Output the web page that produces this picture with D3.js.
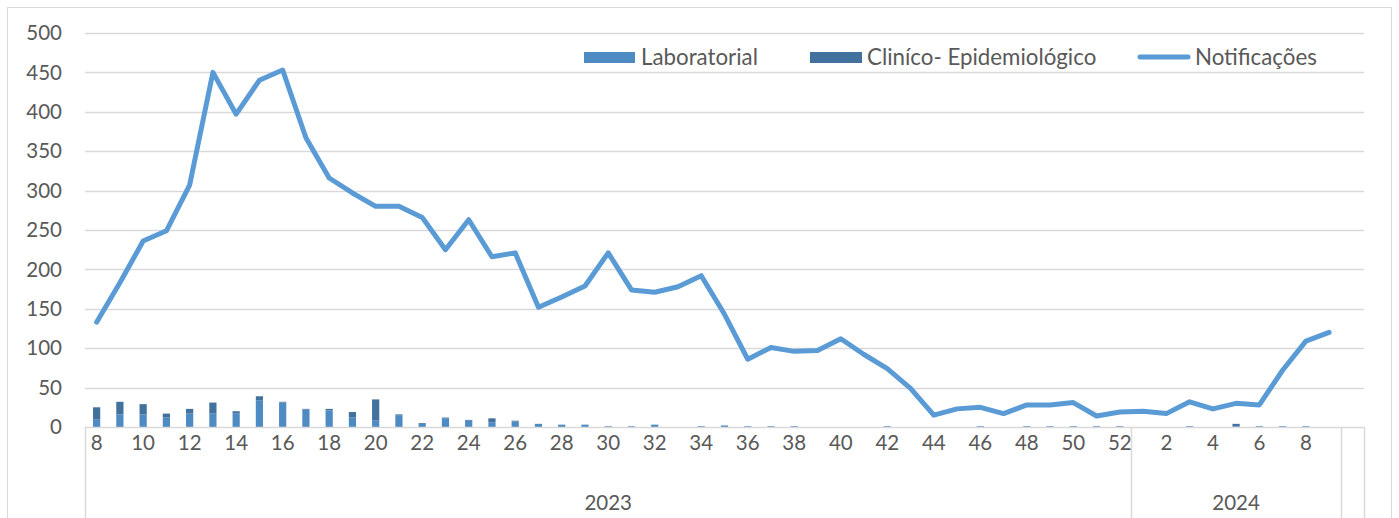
<!DOCTYPE html>
<html>
<head>
<meta charset="utf-8">
<script src="https://cdn.jsdelivr.net/npm/d3@7"></script>
<style>
  body { margin: 0; background: #fff; }
  text { font-family: Lato, "Open Sans", sans-serif; fill: #595959; }
</style>
</head>
<body>
<svg id="canvas"></svg>
<script>
/***********************************************************************/
// Data

var weeks2023 = [8, 9, 10, 11, 12, 13, 14, 15, 16, 17, 18, 19, 20, 21, 22, 23, 24, 25, 26, 27, 28, 29, 30,
                 31, 32, 33, 34, 35, 36, 37, 38, 39, 40, 41, 42, 43, 44, 45, 46, 47, 48, 49, 50, 51, 52];
var weeks2024 = [1, 2, 3, 4, 5, 6, 7, 8, 9];
var years = ['2023', '2024', ''];

var notificacoes = [133, 183, 236, 249, 307, 450, 397, 440, 453, 367, 316, 297, 280, 280, 266, 225, 263, 216, 221, 152, 165, 179, 221,
                    174, 171, 178, 192, 143, 86, 101, 96, 97, 112, 92, 74, 49, 15, 23, 25, 17, 28, 28, 31, 14, 19,
                    20, 17, 32, 23, 30, 28, 72, 109, 120];

var laboratorial = [10, 16, 16, 12, 17, 17, 17, 34, 31, 22, 21, 12, 8, 15, 4, 11, 8, 6, 7, 4, 3, 3, 1,
                    1, 3, 0, 1, 2, 1, 1, 1, 0, 0, 0, 1, 0, 0, 0, 1, 0, 1, 1, 1, 1, 1,
                    0, 0, 1, 0, 1, 1, 1, 1, 0];
var clinico = [15, 16, 13, 5, 6, 14, 3, 5, 1, 1, 2, 7, 27, 1, 1, 1, 1, 5, 1, 0, 0, 0, 0,
               0, 0, 0, 0, 0, 0, 0, 0, 0, 0, 0, 0, 0, 0, 0, 0, 0, 0, 0, 0, 0, 0,
               0, 0, 0, 0, 3, 0, 0, 0, 0];

var yTicks = [0, 50, 100, 150, 200, 250, 300, 350, 400, 450, 500];

/***********************************************************************/
// Variables

var svg_width = 1399, svg_height = 518;
var plot = { left: 85, right: 1364, top: 33, bottom: 427 };
var colLab = '#4e8bc2', colClin = '#41719c', colLine = '#5b9bd5', colGrid = '#d9d9d9';
var tickFont = '20.5px', legendFont = '22.3px';

var categories = [];
weeks2023.forEach(w => categories.push({ key: '2023-' + w, label: w, year: '2023' }));
weeks2024.forEach(w => categories.push({ key: '2024-' + w, label: w, year: '2024' }));
categories.push({ key: 'blank', label: '', year: '' });

categories.forEach((c, i) => {
  c.lab = laboratorial[i];
  c.clin = clinico[i];
  c.notif = notificacoes[i];
});

var svg = d3.select('#canvas').attr('width', svg_width).attr('height', svg_height);

// outer border
svg.append('rect')
  .attr('x', 7.5).attr('y', 7.5).attr('width', 1384).attr('height', 530)
  .attr('fill', 'none').attr('stroke', colGrid).attr('stroke-width', 1);

var xScale = d3.scaleBand().domain(categories.map(c => c.key)).range([plot.left, plot.right]);
var yScale = d3.scaleLinear().domain([0, 500]).range([plot.bottom, plot.top]);
var bw = xScale.bandwidth();
var barW = bw * 0.31;

/***********************************************************************/
// Grid & Y axis

svg.append('g').selectAll('line').data(yTicks.slice(1)).join('line')
  .attr('x1', plot.left).attr('x2', plot.right)
  .attr('y1', d => Math.round(yScale(d)) + 0.5).attr('y2', d => Math.round(yScale(d)) + 0.5)
  .attr('stroke', colGrid).attr('stroke-width', 1.5);

svg.append('g').selectAll('text').data(yTicks).join('text')
  .attr('x', 62).attr('y', d => yScale(d)).attr('dy', '0.35em')
  .attr('text-anchor', 'end').style('font-size', tickFont)
  .text(d => d);

/***********************************************************************/
// Bars

var barG = svg.append('g');
barG.selectAll('rect.lab').data(categories.filter(c => c.lab > 0)).join('rect')
  .attr('class', 'lab')
  .attr('x', c => xScale(c.key) + (bw - barW) / 2).attr('width', barW)
  .attr('y', c => yScale(c.lab)).attr('height', c => yScale(0) - yScale(c.lab))
  .attr('fill', colLab);
barG.selectAll('rect.clin').data(categories.filter(c => c.clin > 0)).join('rect')
  .attr('class', 'clin')
  .attr('x', c => xScale(c.key) + (bw - barW) / 2).attr('width', barW)
  .attr('y', c => yScale(c.lab + c.clin)).attr('height', c => yScale(c.lab) - yScale(c.lab + c.clin))
  .attr('fill', colClin);

/***********************************************************************/
// X axis (two levels)

svg.append('line')
  .attr('x1', plot.left).attr('x2', plot.right)
  .attr('y1', plot.bottom + 0.5).attr('y2', plot.bottom + 0.5)
  .attr('stroke', colGrid).attr('stroke-width', 1.5);

var groupEdges = [plot.left];
years.forEach(y => {
  var cs = categories.filter(c => c.year === y);
  groupEdges.push(xScale(cs[cs.length - 1].key) + bw);
});

svg.append('g').selectAll('line').data(groupEdges).join('line')
  .attr('x1', d => Math.round(d) + 0.5).attr('x2', d => Math.round(d) + 0.5)
  .attr('y1', plot.bottom).attr('y2', svg_height)
  .attr('stroke', colGrid).attr('stroke-width', 1.5);

svg.append('g').selectAll('text').data(categories.filter((c, i) => i % 2 === 0)).join('text')
  .attr('x', c => xScale(c.key) + bw / 2).attr('y', 443).attr('dy', '0.35em')
  .attr('text-anchor', 'middle').style('font-size', tickFont)
  .text(c => c.label);

svg.append('g').selectAll('text').data(years.filter(y => y !== '')).join('text')
  .attr('x', y => {
    var cs = categories.filter(c => c.year === y);
    return (xScale(cs[0].key) + xScale(cs[cs.length - 1].key) + bw) / 2;
  })
  .attr('y', 503).attr('dy', '0.35em')
  .attr('text-anchor', 'middle').style('font-size', tickFont)
  .text(y => y);

/***********************************************************************/
// Line

var lineData = categories.filter(c => c.notif !== undefined);
var line = d3.line().x(c => xScale(c.key) + bw / 2).y(c => yScale(c.notif));
svg.append('path').datum(lineData)
  .attr('d', line).attr('fill', 'none')
  .attr('stroke', colLine).attr('stroke-width', 5)
  .attr('stroke-linejoin', 'round').attr('stroke-linecap', 'round');

/***********************************************************************/
// Legend

var legend = svg.append('g');
legend.append('rect').attr('x', 584).attr('y', 52).attr('width', 51).attr('height', 11).attr('fill', colLab);
legend.append('text').attr('x', 641).attr('y', 57).attr('dy', '0.35em').style('font-size', legendFont).text('Laboratorial');
legend.append('rect').attr('x', 810).attr('y', 52).attr('width', 52).attr('height', 11).attr('fill', colClin);
legend.append('text').attr('x', 867).attr('y', 57).attr('dy', '0.35em').style('font-size', legendFont).text('Cliníco- Epidemiológico');
legend.append('line').attr('x1', 1140).attr('x2', 1188).attr('y1', 57).attr('y2', 57)
  .attr('stroke', colLine).attr('stroke-width', 5).attr('stroke-linecap', 'round');
legend.append('text').attr('x', 1195).attr('y', 57).attr('dy', '0.35em').style('font-size', legendFont).text('Notificações');
</script>
</body>
</html>
